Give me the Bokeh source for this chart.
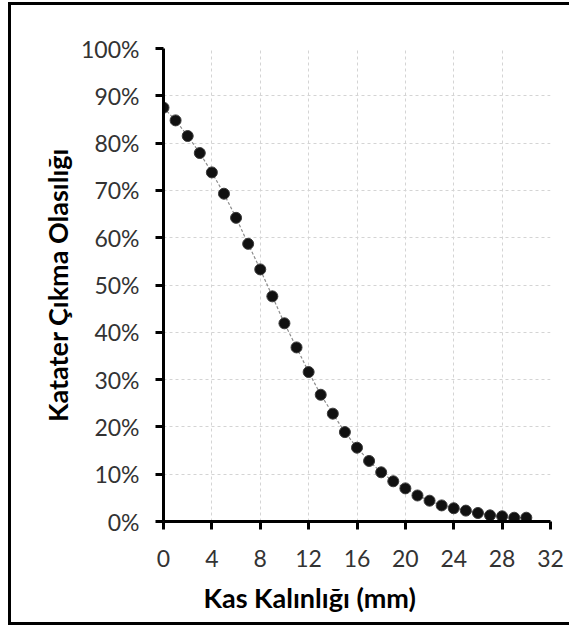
from bokeh.plotting import figure
from bokeh.models import NumeralTickFormatter, FixedTicker, Range1d, Title
from bokeh.embed import file_html
from bokeh.resources import INLINE

thickness_mm = list(range(0, 31))
probability = [0.875, 0.848, 0.815, 0.779, 0.738, 0.693, 0.642, 0.587, 0.533, 0.476,
               0.419, 0.368, 0.316, 0.268, 0.228, 0.189, 0.156, 0.128, 0.104, 0.085,
               0.070, 0.055, 0.044, 0.034, 0.028, 0.023, 0.018, 0.013, 0.011, 0.008,
               0.008]
x_ticks = [0, 4, 8, 12, 16, 20, 24, 28, 32]
y_ticks = [0, 0.1, 0.2, 0.3, 0.4, 0.5, 0.6, 0.7, 0.8, 0.9, 1.0]
x_title = "Kas Kalınlığı (mm)"
y_title = "Katater Çıkma Olasılığı"

FONT = "Lato"

p = figure(width=561, height=623, output_backend="svg", toolbar_location=None,
           x_range=Range1d(0, 32), y_range=Range1d(0, 1),
           min_border_left=152, min_border_right=22, min_border_top=43, min_border_bottom=107)
p.styles = {"border-left": "3px solid black", "border-top": "3px solid black",
            "border-bottom": "3px solid black", "margin-left": "8px", "margin-top": "2px"}
p.outline_line_color = None
p.background_fill_color = "white"
p.border_fill_color = "white"

p.line(thickness_mm, probability, line_color="#8c8c8c", line_width=1.2, line_dash="3 2")
p.scatter(thickness_mm, probability, size=11, fill_color="#111111", line_color="#3a3a3a", line_width=1)

for ax in (p.xaxis[0], p.yaxis[0]):
    ax.axis_line_width = 3
    ax.axis_line_color = "black"
    ax.major_tick_line_width = 3
    ax.major_tick_line_color = "black"
    ax.major_tick_out = 8
    ax.major_tick_in = 0
    ax.minor_tick_line_color = None
    ax.major_label_text_font = FONT
    ax.major_label_text_font_size = "23px"
    ax.major_label_text_color = "#333333"

p.xaxis.ticker = FixedTicker(ticks=x_ticks)
p.yaxis.ticker = FixedTicker(ticks=y_ticks)
p.yaxis.formatter = NumeralTickFormatter(format="0%")
p.xaxis.major_label_standoff = 20
p.yaxis.major_label_standoff = 16

p.yaxis.axis_label = y_title
p.yaxis.axis_label_text_font = FONT
p.yaxis.axis_label_text_font_style = "bold"
p.yaxis.axis_label_text_font_size = "27px"
p.yaxis.axis_label_text_color = "black"
p.yaxis.axis_label_standoff = 4

p.xgrid.grid_line_color = "#d4d4d4"
p.xgrid.grid_line_dash = "3 3"
p.ygrid.grid_line_color = "#d4d4d4"
p.ygrid.grid_line_dash = "3 3"

p.add_layout(Title(text=x_title, align="left", offset=40, standoff=19,
                   text_font=FONT, text_font_style="bold", text_font_size="27px",
                   text_color="black"), "below")

open("out.html", "w").write(file_html(p, INLINE))
